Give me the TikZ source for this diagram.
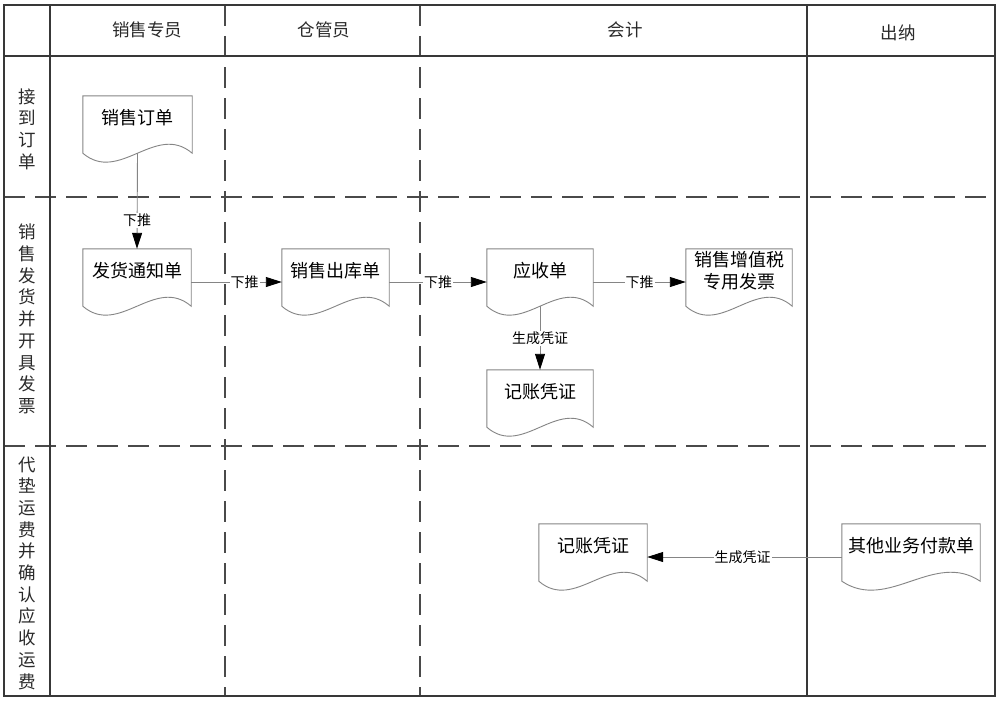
\documentclass[tikz,border=0pt]{standalone}
\usepackage{fontspec}
\setmainfont{Noto Sans CJK SC}
\usetikzlibrary{arrows.meta,calc}
\definecolor{framec}{HTML}{383838}
\definecolor{dashc}{HTML}{4A4A4A}
\definecolor{docc}{HTML}{858585}
\definecolor{headc}{HTML}{2A2A2A}
\newcommand\doctxt[1]{\raisebox{9pt}[\height][\depth]{\begin{tabular}{@{}c@{}}#1\end{tabular}}}
\newcommand\docframe[1]{%
 \draw[docline] ([yshift=9pt]#1.south west) -- (#1.north west) -- (#1.north east) -- ([yshift=9pt]#1.south east)
 .. controls ($(#1.south west)!0.6667!(#1.south east)+(0,40pt)$) and ($(#1.south west)!0.3333!(#1.south east)+(0,-22pt)$) .. ([yshift=9pt]#1.south west) -- cycle;}
\tikzset{
 frame/.style={draw=framec, line width=1.5pt},
 dashline/.style={draw=dashc, line width=1.8pt, dash pattern=on 21pt off 10pt},
 head/.style={font=\fontsize{17.5}{20}\selectfont, text=headc, inner sep=0pt},
 lane/.style={font=\fontsize{17.5}{21.7}\selectfont, align=center, text=headc, inner sep=0pt},
 doc/.style={rectangle, minimum width=#1, minimum height=66pt, inner sep=0pt, font=\fontsize{18}{20}\selectfont},
 doc/.default=107pt,
 docline/.style={draw=docc, line width=0.9pt},
 conn/.style={draw=docc, line width=0.9pt, -{Triangle[length=16pt,width=10pt,color=black]}},
 lbl/.style={fill=white, inner sep=1pt, font=\fontsize{14}{16}\selectfont}
}
\begin{document}
\begin{tikzpicture}[x=1pt,y=-1pt]
\useasboundingbox (0,0) rectangle (1000,701);
\fill[white] (0,0) rectangle (1000,701);
% swimlane frame
\draw[dashline] (225,5) -- (225,696);
\draw[dashline] (420,5) -- (420,696);
\draw[dashline] (4,197) -- (995,197);
\draw[dashline] (4,446) -- (995,446);
\draw[frame] (4,5) rectangle (995,696);
\draw[frame] (4,56) -- (995,56);
\draw[frame] (50,5) -- (50,696);
\draw[frame] (807,5) -- (807,696);
% headers
\node[head] (h1) at (147,30) {销售专员};
\node[head] (h2) at (324,30) {仓管员};
\node[head] (h3) at (625,30) {会计};
\node[head] (h4) at (898,33) {出纳};
% lanes
\node[lane] (l1) at (27,129) {接\\到\\订\\单};
\node[lane] (l2) at (27,319) {销\\售\\发\\货\\并\\开\\具\\发\\票};
\node[lane] (l3) at (27,573) {代\\垫\\运\\费\\并\\确\\认\\应\\收\\运\\费};
% documents
\node[doc=109pt] (d1) at (137.5,129) {\doctxt{销售订单}};
\node[doc=108pt] (d2) at (137,282) {\doctxt{发货通知单}};
\node[doc=107pt] (d3) at (335.5,282) {\doctxt{销售出库单}};
\node[doc=106pt] (d4) at (540,282) {\doctxt{应收单}};
\node[doc=106pt] (d5) at (739,282) {\doctxt{销售增值税\\专用发票}};
\node[doc=106pt] (d6) at (540,403) {\doctxt{记账凭证}};
\node[doc=108pt] (d7) at (593,557) {\doctxt{记账凭证}};
\node[doc=138pt] (d8) at (911,557) {\doctxt{其他业务付款单}};
\docframe{d1}\docframe{d2}\docframe{d3}\docframe{d4}
\docframe{d5}\docframe{d6}\docframe{d7}\docframe{d8}
% connectors
\draw[conn] ([yshift=9pt]d1.south) -- node[lbl,pos=0.7] {下推} (d2.north);
\draw[conn] (d2.east) -- node[lbl,pos=0.59] {下推} (d3.west);
\draw[conn] (d3.east) -- node[lbl,pos=0.5] {下推} (d4.west);
\draw[conn] (d4.east) -- node[lbl,pos=0.5] {下推} (d5.west);
\draw[conn] ([yshift=9pt]d4.south) -- node[lbl,pos=0.5] {生成凭证} (d6.north);
\draw[conn] (d8.west) -- node[lbl,pos=0.51] {生成凭证} (d7.east);
\end{tikzpicture}
\end{document}
